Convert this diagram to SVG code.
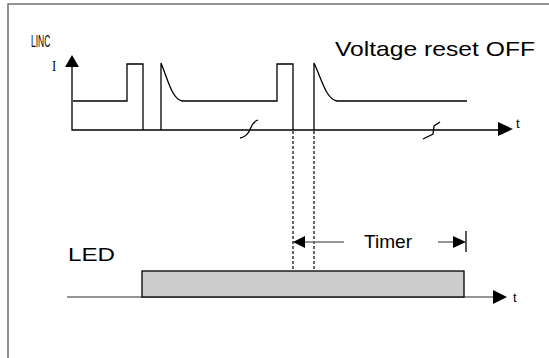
<svg xmlns="http://www.w3.org/2000/svg" width="549" height="358" viewBox="0 0 549 358">
<style>
.ln{fill:none;stroke:#000;stroke-width:1.3}
.gr{fill:none;stroke:#707070;stroke-width:1.5}
.ah{fill:#000;stroke:none}
.dash{fill:none;stroke:#000;stroke-width:1.2;stroke-dasharray:3,2}
.tx{font-family:"Liberation Sans",Arial,sans-serif;fill:#000}
</style>
<rect width="549" height="358" fill="#fff"/>
<g id="frame">
<path class="gr" d="M8,358 V4 H549" stroke-width="2"/>
</g>
<g id="labels">
<text class="tx" transform="translate(31,47) scale(0.5,1)" font-size="17">LINC</text>
<text transform="translate(52,71) scale(0.9,1)" font-family="'Liberation Serif',serif" font-size="14">I</text>
<text class="tx" x="335" y="56" font-size="21" textLength="200" lengthAdjust="spacingAndGlyphs">Voltage reset OFF</text>
<text class="tx" x="516" y="128" font-size="13">t</text>
<text class="tx" x="68" y="261" font-size="19" textLength="47" lengthAdjust="spacingAndGlyphs">LED</text>
<text class="tx" x="364" y="248" font-size="19" textLength="48" lengthAdjust="spacingAndGlyphs">Timer</text>
<text class="tx" x="513" y="302" font-size="13">t</text>
</g>
<g id="connectors">
<path class="ln" d="M72,66 V130 H499"/>
<polygon class="ah" points="72,55 65,67 79,67"/>
<polygon class="ah" points="513,129 498,122 498,136"/>
<path class="ln" d="M73,101 H127 V64 H143 V130"/>
<path class="ln" d="M161,130 V63 C168,80 172,99 182,101 H277 V64 H293 V130"/>
<path class="ln" d="M314,130 V63 C322,80 326,99 337,101 H467"/>
<path class="ln" d="M258,120 C251,122 251,130 248,133 C246,136 244,137 240,138"/>
<path class="ln" d="M440,122 L434,126 L433,134 L423,139"/>
<path class="dash" d="M293,131 V270"/>
<path class="dash" d="M314,131 V270"/>
<path class="gr" d="M305,242 H344"/>
<path class="gr" d="M438,242 H453"/>
<polygon class="ah" points="293,242 305,236 305,248"/>
<polygon class="ah" points="466,242 453,236 453,248"/>
<path class="ln" d="M466,231 V252"/>
<path class="gr" d="M67,297 H494"/>
<polygon class="ah" points="507,297 493,290 493,304"/>
</g>
<g id="led-bar">
<rect x="142" y="271" width="322" height="26" fill="#cccccc" stroke="#000" stroke-width="1.3"/>
</g>
</svg>
